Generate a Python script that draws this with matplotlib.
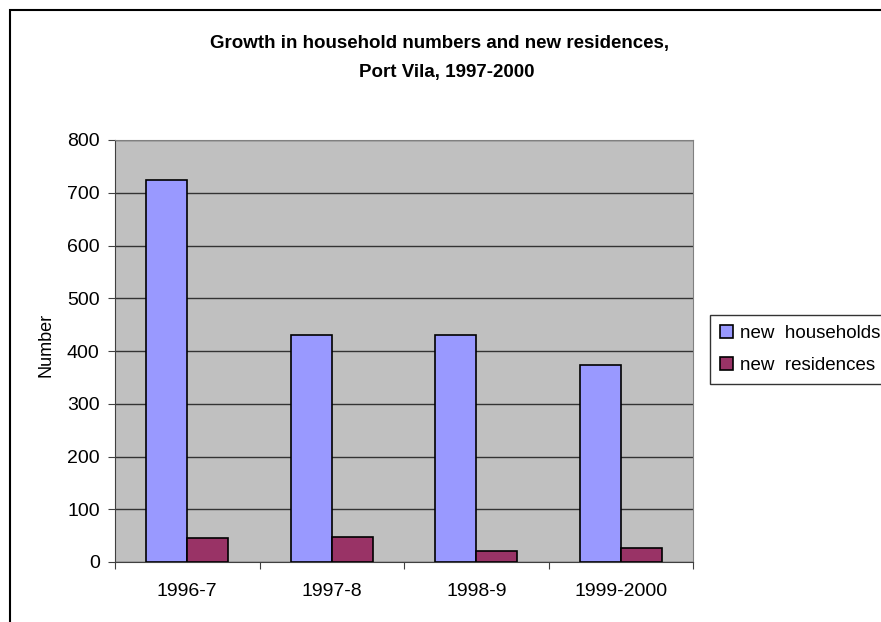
import numpy as np
import matplotlib
matplotlib.use("Agg")
import matplotlib.pyplot as plt
from matplotlib.patches import Rectangle

periods = ["1996-7", "1997-8", "1998-9", "1999-2000"]
new_households = [725, 431, 431, 374]
new_residences = [45, 48, 21, 27]

plt.rcParams['font.family'] = ['Liberation Sans', 'DejaVu Sans']

fig = plt.figure(figsize=(8.81, 6.22), dpi=100)
fig.patches.append(Rectangle((10 / 881, -0.05), 1.0, 1 - 10 / 622 + 0.05,
                             transform=fig.transFigure, fill=False,
                             edgecolor="black", linewidth=1.5))

ax = fig.add_axes([115 / 881, 60 / 622, 578 / 881, 422 / 622])
ax.set_facecolor("#C0C0C0")

x = np.arange(len(periods))
w = 0.284
ax.bar(x - w / 2, new_households, w, color="#9999FF", edgecolor="black",
       linewidth=1.2, label="new  households", zorder=3)
ax.bar(x + w / 2, new_residences, w, color="#993366", edgecolor="black",
       linewidth=1.2, label="new  residences", zorder=3)

ax.set_xlim(-0.5, len(periods) - 0.5)
ax.set_ylim(0, 800)
ax.set_yticks(range(0, 801, 100))
ax.yaxis.grid(True, color="#333333", linewidth=1, zorder=1)

# x ticks at category boundaries, labels at centres
ax.set_xticks(np.arange(-0.5, len(periods), 1.0))
ax.set_xticklabels([])
ax.set_xticks(x, minor=True)
ax.set_xticklabels(periods, minor=True, fontsize=14)
ax.tick_params(axis="x", which="minor", length=0, pad=15)
ax.tick_params(axis="x", which="major", length=5, direction="out", color="#404040")
ax.tick_params(axis="y", length=5, direction="out", labelsize=14, pad=6, color="#404040")

for s in ["top", "right"]:
    ax.spines[s].set_color("#808080")
ax.spines["left"].set_color("#404040")
ax.spines["bottom"].set_color("#404040")

ax.set_ylabel("Number", fontsize=13)
ax.yaxis.set_label_coords(54 / 881, 1 - 345 / 622, transform=fig.transFigure)

fig.text(440 / 881, 1 - 48 / 622, "Growth in household numbers and new residences,",
         ha="center", va="baseline", fontsize=13.5, fontweight="bold")
fig.text(447 / 881, 1 - 77 / 622, "Port Vila, 1997-2000",
         ha="center", va="baseline", fontsize=13.5, fontweight="bold")

leg = ax.legend(loc="upper left", bbox_to_anchor=(710 / 881, 1 - 315 / 622),
                bbox_transform=fig.transFigure, frameon=True, fancybox=False,
                edgecolor="black", fontsize=13.5, handlelength=0.7,
                handleheight=0.7, handletextpad=0.35, borderpad=0.55,
                labelspacing=0.75, borderaxespad=0)
leg.get_frame().set_linewidth(1)

fig.savefig("out.png", dpi=100)
